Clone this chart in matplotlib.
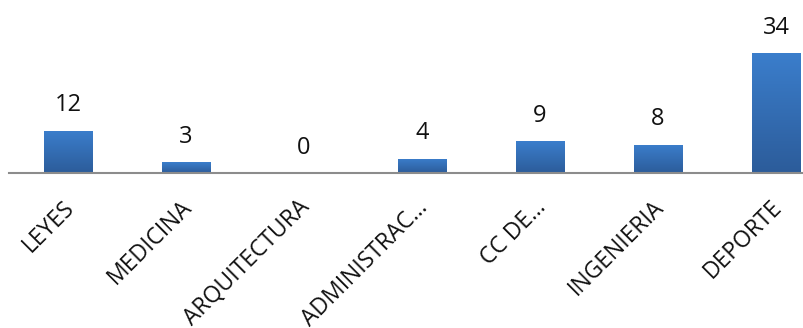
import matplotlib
matplotlib.use("Agg")
import matplotlib.pyplot as plt
import matplotlib.transforms as mtransforms
import numpy as np

categories = ["LEYES", "MEDICINA", "ARQUITECTURA", "ADMINISTRAC...", "CC DE...", "INGENIERIA", "DEPORTE"]
values = [12, 3, 0, 4, 9, 8, 34]

plt.rcParams['font.family'] = ['Open Sans', 'DejaVu Sans']

fig = plt.figure(figsize=(8.04, 3.28), dpi=100)
ax = fig.add_axes([9 / 804, (328 - 173) / 328, (804 - 9) / 804, 173 / 328])

x = np.arange(len(categories))
bars = ax.bar(x, values, width=0.415, color='#3470b8', zorder=2)

# vertical gradient on each bar
grad = np.linspace(0, 1, 256).reshape(-1, 1)
cmap = matplotlib.colors.LinearSegmentedColormap.from_list('g', ['#2c5c9a', '#3b7ecc'])
for b in bars:
    h = b.get_height()
    if h <= 0:
        continue
    x0 = b.get_x()
    w = b.get_width()
    im = ax.imshow(grad, extent=[x0, x0 + w, 0, h], origin='lower', cmap=cmap,
                   aspect='auto', zorder=3)
    im.set_clip_path(b)

for xi, v in zip(x, values):
    ax.annotate(str(v), (xi, v), xytext=(0, 14), textcoords='offset points',
                ha='center', va='baseline', fontsize=17, color='#111111')

ax.set_xlim(-0.5, (804 - 68) / 118)
ax.set_ylim(0, 49)
ax.set_xticks(x)
ax.set_xticklabels(categories, rotation=45, ha='right', rotation_mode='anchor',
                   fontsize=16.5, color='#111111')
ax.tick_params(axis='x', length=0, pad=12)
shift = mtransforms.ScaledTranslation(-6 / 100, -6 / 100, fig.dpi_scale_trans)
for lbl in ax.get_xticklabels():
    lbl.set_transform(lbl.get_transform() + shift)
ax.set_yticks([])
for s in ['top', 'right', 'left']:
    ax.spines[s].set_visible(False)
ax.spines['bottom'].set_color('#8c8c8c')
ax.spines['bottom'].set_linewidth(1.5)
ax.spines['bottom'].set_zorder(4)

fig.savefig('out.png', dpi=100)
